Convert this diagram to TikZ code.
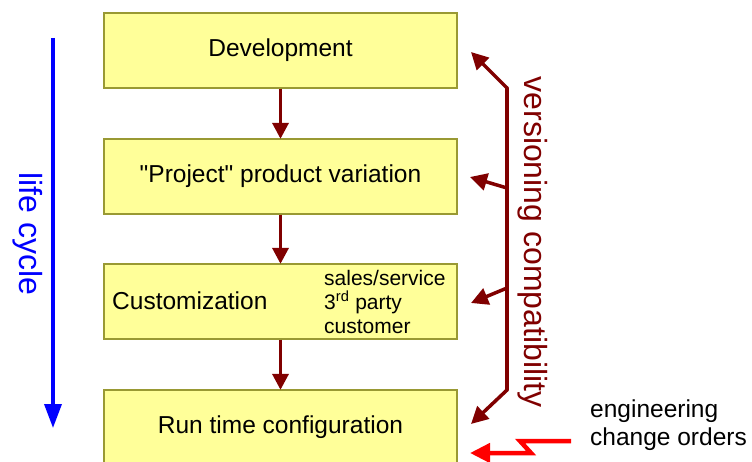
\documentclass[tikz,border=0pt]{standalone}
\usepackage{fontspec}
\setmainfont{Liberation Sans}[Ligatures=TeXOff]
\usetikzlibrary{arrows.meta}
\definecolor{boxfill}{HTML}{FFFF99}
\definecolor{boxline}{HTML}{999933}
\definecolor{dred}{HTML}{800000}
\definecolor{lcblue}{HTML}{0000FF}
\definecolor{ecored}{HTML}{FF0000}
\tikzset{
  stage/.style={draw=boxline, line width=1.3pt, fill=boxfill, minimum width=353pt, minimum height=75pt, inner sep=0pt,
    font=\fontsize{24.5}{28}\selectfont},
  flow/.style={draw=dred, line width=3.5pt, -{Triangle[length=16pt,width=16pt]}, shorten >=-0.5pt},
  vers/.style={draw=dred, line width=3.5pt, -{Triangle[length=17pt,width=17pt]}},
  bigtxt/.style={font=\fontsize{32}{36}\selectfont, inner sep=0pt},
  midtxt/.style={font=\fontsize{24.5}{28}\selectfont, inner sep=0pt},
  smalltxt/.style={font=\fontsize{21}{24}\selectfont, inner sep=0pt, align=left}
}
\begin{document}
\begin{tikzpicture}[x=1pt,y=-1pt]
\useasboundingbox (0,0) rectangle (752,462);
\node[stage] (dev) at (280.5,50.5) {Development};
\node[stage] (proj) at (280.5,176.5) {"Project" product variation};
\node[stage] (cust) at (280.5,301.5) {};
\node[stage] (run) at (280.5,427.5) {Run time configuration};
\node[midtxt, anchor=west] (custlbl) at (112,301) {Customization};
\node[smalltxt, anchor=west] (custside) at (324,302) {sales/service\\3\textsuperscript{rd} party\\customer};
\draw[flow] (dev) -- (proj);
\draw[flow] (proj) -- (cust);
\draw[flow] (cust) -- (run);
% life cycle
\coordinate (lcs) at (53,38);
\coordinate (lce) at (53,428);
\draw[draw=lcblue, line width=3.5pt, -{Triangle[length=24pt,width=17pt]}] (lcs) -- (lce);
\node[bigtxt, text=lcblue, rotate=-90] (lc) at (27.5,234) {life cycle};
% versioning bracket
\coordinate (v1) at (507,88);
\coordinate (v2) at (507,188);
\coordinate (v3) at (507,288);
\coordinate (v4) at (507,390);
\coordinate (t1) at (471,52);
\coordinate (t2) at (470,177);
\coordinate (t3) at (471,303);
\coordinate (t4) at (471,424);
\draw[draw=dred, line width=3.5pt, line cap=round] (v1) -- (v4);
\draw[vers] (v1) -- (t1);
\draw[vers] (v2) -- (t2);
\draw[vers] (v3) -- (t3);
\draw[vers] (v4) -- (t4);
\node[bigtxt, text=dred, rotate=-90] (vc) at (533,242) {versioning compatibility};
% engineering change orders
\node[midtxt, anchor=west, align=left] (eco) at (590,425) {engineering\\change orders};
\coordinate (e1) at (571,441);
\coordinate (e2) at (520,441);
\coordinate (e3) at (531,453);
\coordinate (e4) at (470,453);
\draw[draw=ecored, line width=4.5pt, -{Triangle[length=20pt,width=19pt]}] (e1) -- (e2) -- (e3) -- (e4);
\end{tikzpicture}
\end{document}
